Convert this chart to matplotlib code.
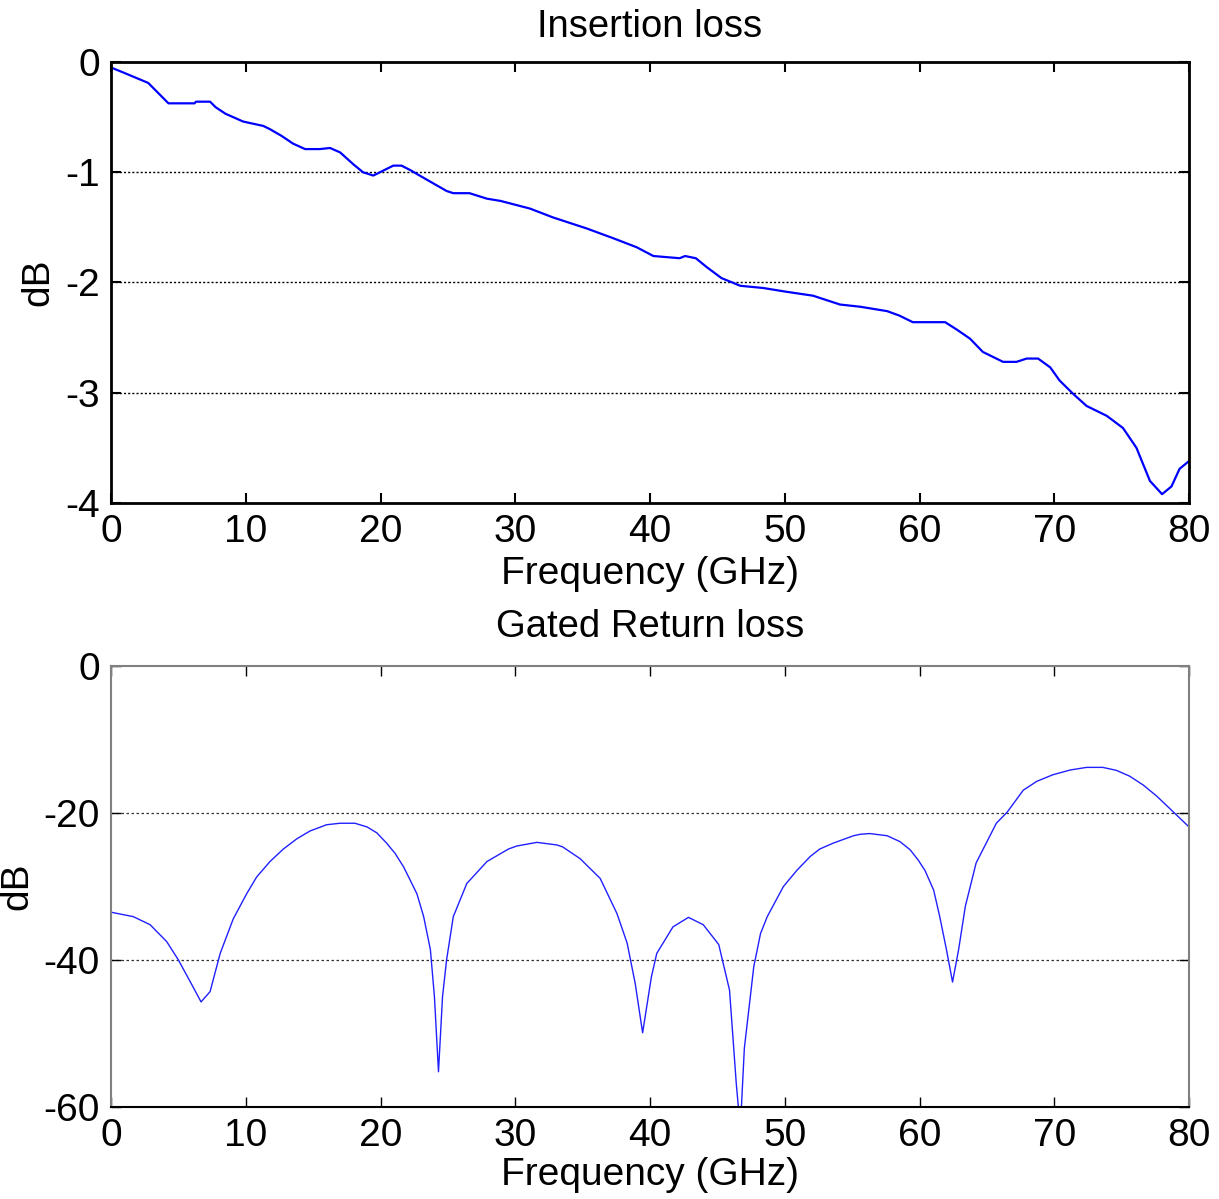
import matplotlib.pyplot as plt
import numpy as np

plt.rcParams['font.family'] = ['Liberation Sans', 'DejaVu Sans']
plt.rcParams['axes.unicode_minus'] = False

# insertion loss
il_freq = [0, 1.0, 2.76, 4.26, 6.2, 6.3, 7.35, 7.76, 8.5, 9.8, 11.3, 11.8, 12.65, 13.5,
           14.4, 15.5, 16.25, 17.0, 18.0, 18.7, 19.46, 19.96, 20.95, 21.55, 22.2, 22.9,
           23.9, 24.9, 25.4, 26.6, 27.9, 28.9, 31.1, 32.8, 35.3, 37.3, 39.0, 40.25, 42.2,
           42.6, 43.4, 44.2, 45.3, 46.7, 48.4, 49.9, 52.1, 54.1, 55.6, 57.6, 58.5, 59.5,
           61.9, 62.8, 63.75, 64.7, 66.2, 67.2, 67.95, 68.8, 69.7, 70.4, 71.4, 72.4, 73.9,
           75.1, 76.1, 77.1, 78.0, 78.7, 79.3, 80]
il_db = [-0.05, -0.10, -0.19, -0.375, -0.375, -0.36, -0.36, -0.41, -0.47, -0.54, -0.58,
         -0.61, -0.67, -0.74, -0.79, -0.79, -0.78, -0.82, -0.93, -1.0, -1.03, -1.0, -0.94,
         -0.94, -0.98, -1.03, -1.10, -1.17, -1.19, -1.19, -1.24, -1.26, -1.33, -1.41,
         -1.51, -1.60, -1.68, -1.76, -1.78, -1.76, -1.78, -1.86, -1.96, -2.03, -2.05,
         -2.08, -2.12, -2.20, -2.22, -2.26, -2.30, -2.36, -2.36, -2.43, -2.51, -2.63,
         -2.72, -2.72, -2.69, -2.69, -2.77, -2.89, -3.01, -3.12, -3.21, -3.32, -3.50,
         -3.80, -3.92, -3.85, -3.69, -3.62]

# gated return loss
rl_freq = [0, 1.65, 2.9, 4.13, 5.0, 5.86, 6.68, 7.35, 8.1, 9.07, 10.06, 10.81, 11.8,
           12.79, 13.8, 14.77, 16.0, 16.99, 18.1, 19.0, 19.72, 20.45, 21.08, 21.7, 22.19,
           22.7, 23.2, 23.7, 24.0, 24.3, 24.6, 24.9, 25.4, 26.4, 27.9, 29.5, 30.1, 31.6,
           33.08, 33.5, 34.8, 36.3, 37.55, 38.3, 38.9, 39.45, 40.1, 40.5, 41.7, 42.85,
           43.95, 45.1, 45.9, 46.4, 46.7, 47.0, 47.7, 48.2, 48.7, 49.9, 50.9, 51.9, 52.6,
           53.6, 55.1, 55.6, 56.3, 57.6, 58.55, 59.3, 59.9, 60.4, 61.05, 61.5, 62.0, 62.45,
           62.9, 63.4, 64.2, 65.2, 65.7, 66.5, 67.7, 68.7, 69.9, 71.2, 72.4, 73.6, 74.6,
           75.6, 76.6, 77.6, 78.8, 80]
rl_db = [-33.5, -34.1, -35.2, -37.5, -40.0, -42.9, -45.7, -44.3, -39.1, -34.4, -31.0,
         -28.7, -26.6, -24.9, -23.5, -22.45, -21.6, -21.4, -21.4, -21.9, -22.7, -24.1,
         -25.5, -27.3, -29.1, -31.0, -34.1, -38.6, -45.0, -55.2, -45.0, -40.0, -34.1,
         -29.6, -26.6, -24.9, -24.5, -24.0, -24.35, -24.6, -26.2, -28.9, -33.7, -37.7,
         -43.2, -49.9, -42.3, -39.1, -35.5, -34.2, -35.2, -37.9, -44.1, -56.8, -63.0,
         -52.0, -40.9, -36.4, -34.1, -30.0, -27.8, -25.9, -24.9, -24.1, -23.1, -22.9,
         -22.8, -23.1, -23.9, -25.0, -26.4, -27.8, -30.5, -34.1, -38.6, -43.0, -38.6,
         -32.7, -26.8, -23.2, -21.4, -19.9, -16.9, -15.7, -14.8, -14.15, -13.8, -13.8,
         -14.2, -15.0, -16.2, -17.7, -19.8, -21.9]

x_ticks = [0, 10, 20, 30, 40, 50, 60, 70, 80]
il_ticks = [0, -1, -2, -3, -4]
rl_ticks = [0, -20, -40, -60]

fs = 28
fig = plt.figure(figsize=(12.19, 11.99), dpi=100)
ax1 = fig.add_axes([0.0911, 0.5805, 0.8843, 0.3678])
ax2 = fig.add_axes([0.0911, 0.0767, 0.8843, 0.3679])

# top panel
ax1.plot(il_freq, il_db, color='#0000ff', lw=1.6)
ax1.set_xlim(0, 80)
ax1.set_ylim(-4, 0)
ax1.set_xticks(x_ticks)
ax1.set_yticks(il_ticks)
for v in il_ticks[1:-1]:
    ax1.axhline(v, color='black', lw=1.0, ls=(0, (1.5, 1.5)), zorder=0)
for s in ax1.spines.values():
    s.set_linewidth(2.0)
    s.set_color('black')
ax1.tick_params(direction='in', length=7, width=1.5, top=True, right=True,
                labelsize=fs, pad=8)
ax1.set_title('Insertion loss', fontsize=27.5, pad=18)
ax1.set_xlabel('Frequency (GHz)', fontsize=fs, labelpad=4)
ax1.set_ylabel('dB', fontsize=fs, labelpad=6)

# bottom panel
ax2.plot(rl_freq, rl_db, color='#2020ff', lw=1.0)
ax2.set_xlim(0, 80)
ax2.set_ylim(-60, 0)
ax2.set_xticks(x_ticks)
ax2.set_yticks(rl_ticks)
for v in rl_ticks[1:-1]:
    ax2.axhline(v, color='#333333', lw=0.9, ls=(0, (2, 2)), zorder=0)
for name, s in ax2.spines.items():
    s.set_linewidth(1.5)
    s.set_color('black' if name == 'bottom' else '#808080')
ax2.tick_params(direction='in', length=7, width=1.0, top=True, right=True,
                labelsize=fs, pad=8)
ax2.set_title('Gated Return loss', fontsize=27.5, pad=21)
ax2.set_xlabel('Frequency (GHz)', fontsize=fs, labelpad=2)
ax2.set_ylabel('dB', fontsize=fs, labelpad=6)

fig.savefig('out.png', dpi=100)
